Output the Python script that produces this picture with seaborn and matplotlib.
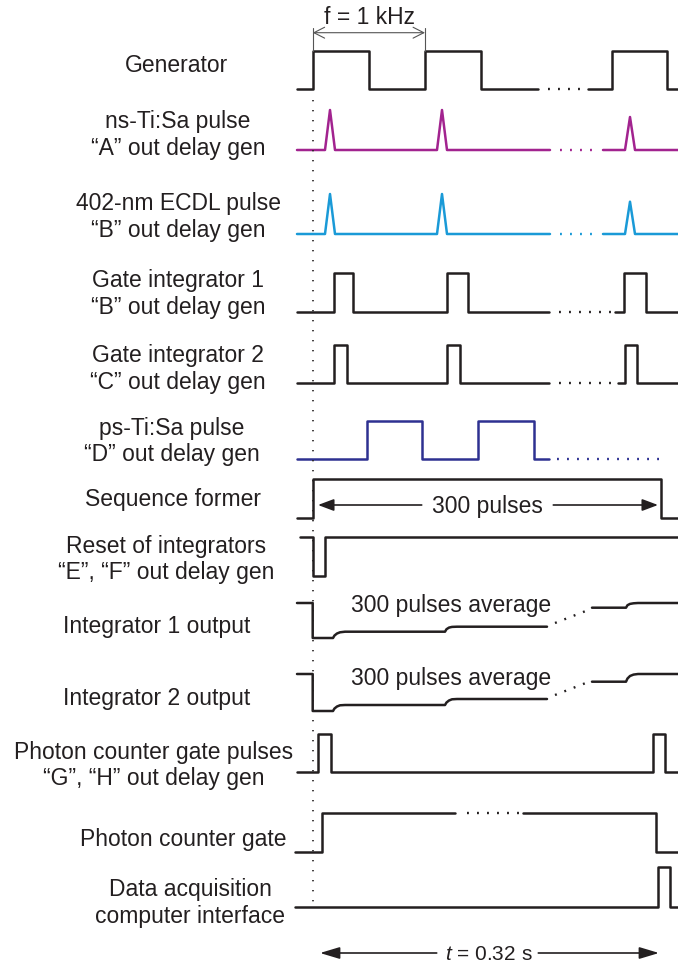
import matplotlib
matplotlib.use("Agg")
import matplotlib.pyplot as plt
import seaborn as sns

sns.set_theme(style="white")
plt.rcParams["font.family"] = ["Liberation Sans", "DejaVu Sans"]
plt.rcParams["mathtext.fontset"] = "custom"
plt.rcParams["mathtext.it"] = "Liberation Sans:italic"
plt.rcParams["mathtext.rm"] = "Liberation Sans"

# ---- colours ----
BLACK = "#231f20"
PURPLE = "#a2238f"
CYAN = "#1a9ad7"
NAVY = "#2e3191"
GREY = "#555555"

# ---- channel labels: (lines, x centre, baselines) ----
label_lines = [
    ["Generator"],
    ["ns-Ti:Sa pulse", "\u201cA\u201d out delay gen"],
    ["402-nm ECDL pulse", "\u201cB\u201d out delay gen"],
    ["Gate integrator 1", "\u201cB\u201d out delay gen"],
    ["Gate integrator 2", "\u201cC\u201d out delay gen"],
    ["ps-Ti:Sa pulse", "\u201cD\u201d out delay gen"],
    ["Sequence former"],
    ["Reset of integrators", "\u201cE\u201d, \u201cF\u201d out delay gen"],
    ["Integrator 1 output"],
    ["Integrator 2 output"],
    ["Photon counter gate pulses", "\u201cG\u201d, \u201cH\u201d out delay gen"],
    ["Photon counter gate"],
    ["Data acquisition", "computer interface"],
]
label_x = [177, 178, 178, 178, 178, 172, 173, 166, 157, 157, 154, 183, 190]
label_base = [[72], [128, 155], [210, 237], [287, 314], [362, 389], [435, 461],
              [506], [553, 579], [633], [705], [759, 785], [846], [896, 923]]

# ---- square waveforms: step edges (x) and levels held after each edge ----
gen_x1 = [297, 312.7, 369, 425, 480.7, 538]
gen_y1 = [89, 51, 89, 51, 89, 89]
gen_x2 = [588, 611.7, 666.7, 678]
gen_y2 = [89, 51, 89, 89]

gi1_x1 = [297, 334, 353, 447, 468, 549]
gi1_y1 = [311.7, 272.7, 311.7, 272.7, 311.7, 311.7]
gi1_x2 = [615, 624, 646, 678]
gi1_y2 = [311.7, 272.7, 311.7, 311.7]

gi2_x1 = [297, 334, 347, 447, 460, 549]
gi2_y1 = [383, 345, 383, 345, 383, 383]
gi2_x2 = [618, 625, 637, 678]
gi2_y2 = [383, 345, 383, 383]

ps_x = [297, 367, 422, 478, 534, 549]
ps_y = [459, 421, 459, 421, 459, 459]

seq_x = [297, 312.7, 660.7, 678]
seq_y = [518, 479, 518, 518]

rst_x = [300, 312.7, 325, 678]
rst_y = [537, 576, 537, 537]

pcgp_x = [297, 318, 330.7, 652.7, 665, 678]
pcgp_y = [771.7, 734, 771.7, 734, 771.7, 771.7]

pcg_x1 = [295, 321.7, 455]
pcg_y1 = [852, 812.7, 812.7]
pcg_x2 = [523, 656, 678]
pcg_y2 = [812.7, 852, 852]

daq_x = [295, 658, 670, 678]
daq_y = [906.7, 866.7, 906.7, 906.7]

# ---- triangular optical pulses ----
nsA_x1 = [297, 325, 330, 335, 437, 442, 447, 550]
nsA_y1 = [150, 150, 110, 150, 150, 110, 150, 150]
nsA_x2 = [603, 625, 630, 635, 678]
nsA_y2 = [150, 150, 117, 150, 150]

ecdl_x1 = [297, 325, 330, 335, 437, 442, 447, 550]
ecdl_y1 = [234, 234, 194, 234, 234, 194, 234, 234]
ecdl_x2 = [603, 625, 630, 635, 678]
ecdl_y2 = [234, 234, 201.7, 234, 234]

# ---- integrator outputs (stepwise charging) ----
int1_x1 = [297, 312.7, 312.7, 333, 334.5, 337, 340, 345, 445, 446.5, 449, 452, 457, 547]
int1_y1 = [603, 603, 638, 638, 635.5, 633.5, 632.3, 631.7, 631.7, 629.2, 627.6, 626.9, 626.7, 626.7]
int1_x2 = [592, 626, 627.5, 630, 633.5, 638, 678]
int1_y2 = [607.7, 607.7, 605.2, 603.9, 603.3, 603, 603]

int2_x1 = [297, 312.7, 312.7, 333, 334.5, 337, 340, 345, 445, 446.5, 449, 452, 457, 547]
int2_y1 = [674, 674, 711, 711, 708.5, 706.5, 705.3, 705, 705, 702.5, 700.5, 699.3, 699, 699]
int2_x2 = [592, 626, 627.5, 630, 633.5, 638, 678]
int2_y2 = [681.7, 681.7, 678.5, 676, 674.6, 674, 674]

# ---- ellipsis dots between waveform pieces ----
gaps = [
    ([548, 586], [89, 89], BLACK),
    ([560, 598], [150, 150], PURPLE),
    ([560, 598], [234, 234], CYAN),
    ([559, 612], [311.7, 311.7], BLACK),
    ([559, 612], [383, 383], BLACK),
    ([557, 660], [459, 459], NAVY),
    ([555, 585], [623, 611.3], BLACK),
    ([555, 585], [695, 683.3], BLACK),
    ([467, 520], [812.7, 812.7], BLACK),
]

LW = 1.8

fig = plt.figure(figsize=(6.78, 9.68), dpi=100)
ax = fig.add_axes([0, 0, 1, 1])


def steps(xs, ys, color=BLACK):
    sns.lineplot(x=xs, y=ys, sort=False, estimator=None, color=color,
                 lw=LW, drawstyle="steps-post", ax=ax)


def path(xs, ys, color=BLACK):
    sns.lineplot(x=xs, y=ys, sort=False, estimator=None, color=color,
                 lw=LW, ax=ax)


steps(gen_x1, gen_y1)
steps(gen_x2, gen_y2)
path(nsA_x1, nsA_y1, PURPLE)
path(nsA_x2, nsA_y2, PURPLE)
path(ecdl_x1, ecdl_y1, CYAN)
path(ecdl_x2, ecdl_y2, CYAN)
steps(gi1_x1, gi1_y1)
steps(gi1_x2, gi1_y2)
steps(gi2_x1, gi2_y1)
steps(gi2_x2, gi2_y2)
steps(ps_x, ps_y, NAVY)
steps(seq_x, seq_y)
steps(rst_x, rst_y)
path(int1_x1, int1_y1)
path(int1_x2, int1_y2)
path(int2_x1, int2_y1)
path(int2_x2, int2_y2)
steps(pcgp_x, pcgp_y)
steps(pcg_x1, pcg_y1)
steps(pcg_x2, pcg_y2)
steps(daq_x, daq_y)

for gx, gy, gc in gaps:
    ax.plot(gx, gy, color=gc, lw=1.7, linestyle=(0, (0.8, 3.44)))

# time-zero reference line
ax.plot([312.7, 312.7], [100, 905], color=BLACK, lw=1.2, linestyle=(0, (0.8, 5.2)))

# period marker
ax.plot([312.7, 312.7], [28, 51], color=GREY, lw=0.8)
ax.plot([425, 425], [28, 51], color=GREY, lw=0.8)
ax.annotate("", xy=(312.7, 32.7), xytext=(425, 32.7),
            arrowprops=dict(arrowstyle="<->,head_length=0.55,head_width=0.28",
                            mutation_scale=14, color=GREY, lw=0.8,
                            shrinkA=0, shrinkB=0))
ax.text(369.7, 23.5, "f = 1 kHz", ha="center", va="baseline", fontsize=16.5, color=BLACK)

# double arrows broken by text
arrow_kw = dict(arrowstyle="-|>,head_length=0.48,head_width=0.18", mutation_scale=20,
                color=BLACK, lw=1.2, shrinkA=0, shrinkB=0)
ax.annotate("", xy=(318, 505), xytext=(421.7, 505), arrowprops=arrow_kw)
ax.annotate("", xy=(658, 505), xytext=(553.3, 505), arrowprops=arrow_kw)
ax.text(487.5, 513, "300 pulses", ha="center", va="baseline", fontsize=16.5, color=BLACK)

ax.text(451.5, 612, "300 pulses average", ha="center", va="baseline", fontsize=16.5, color=BLACK)
ax.text(451.5, 685, "300 pulses average", ha="center", va="baseline", fontsize=16.5, color=BLACK)

arrow_kw2 = dict(arrow_kw, arrowstyle="-|>,head_length=0.6,head_width=0.18")
ax.annotate("", xy=(320, 953), xytext=(436.7, 953), arrowprops=arrow_kw2)
ax.annotate("", xy=(659, 953), xytext=(538.3, 953), arrowprops=arrow_kw2)
ax.text(489, 960, r"$t$ = 0.32 s", ha="center", va="baseline", fontsize=15, color=BLACK)

for lines, lx, bases in zip(label_lines, label_x, label_base):
    for line, by in zip(lines, bases):
        ax.text(lx, by, line, ha="center", va="baseline", fontsize=16.5, color=BLACK)

ax.set_xlim(0, 678)
ax.set_ylim(968, 0)
ax.axis("off")
fig.savefig("out.png", dpi=100)
